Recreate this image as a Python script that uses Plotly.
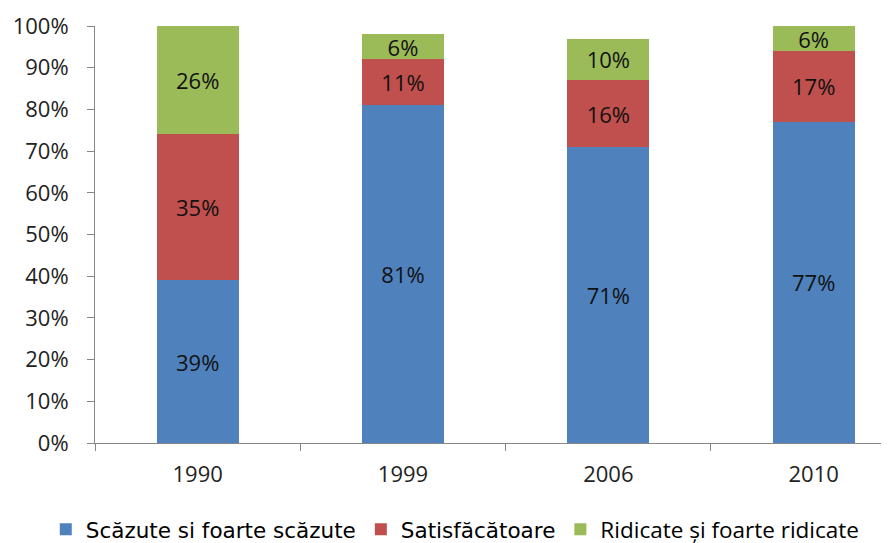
import plotly.graph_objects as go

ani = ["1990", "1999", "2006", "2010"]
scazute = [39, 81, 71, 77]
satisfacatoare = [35, 11, 16, 17]
ridicate = [26, 6, 10, 6]

font = "Open Sans"
lat = '<span style="font-family:DejaVu Sans;font-size:21.5px">{}</span>'

serii = [
    (lat.format("Scăzute si foarte scăzute"), scazute, "#4F81BD"),
    (lat.format("Satisfăcătoare"), satisfacatoare, "#C0504D"),
    ("Ridicate și foarte ridicate", ridicate, "#9BBB59"),
]

fig = go.Figure()
for nume, valori, culoare in serii:
    fig.add_trace(go.Bar(
        x=ani,
        y=valori,
        name=nume,
        marker=dict(color=culoare, line=dict(width=0)),
        width=0.4,
        text=[f"{v}%" for v in valori],
        textposition="inside",
        insidetextanchor="middle",
        textfont=dict(family=font, size=22, color="#111111"),
        constraintext="none",
    ))

# pagina are 8px margine implicită, deci figura e cu 8px mai mică
fig.update_layout(
    barmode="stack",
    width=881,
    height=535,
    margin=dict(l=87, r=0, t=18, b=100, autoexpand=False),
    plot_bgcolor="white",
    paper_bgcolor="white",
    font=dict(family=font, size=22, color="#222222"),
    legend=dict(
        orientation="h",
        x=-0.062, xanchor="left",
        y=-0.208, yanchor="middle",
        font=dict(size=22.5, color="#000000"),
        itemwidth=30,
        traceorder="normal",
    ),
)
fig.update_xaxes(
    type="category",
    range=[-0.5, 3.367],
    showline=True, linecolor="#868686", linewidth=1,
    ticks="outside", tickson="boundaries", ticklen=7, tickcolor="#868686",
    ticklabelstandoff=12,
    showgrid=False,
)
fig.update_yaxes(
    range=[0, 100],
    tickvals=list(range(0, 101, 10)),
    ticktext=[f"{v}%" for v in range(0, 101, 10)],
    showline=True, linecolor="#868686", linewidth=1,
    ticks="outside", ticklen=7, tickcolor="#868686",
    ticklabelstandoff=14,
    showgrid=False, zeroline=False,
)

fig.write_html("out.html")
